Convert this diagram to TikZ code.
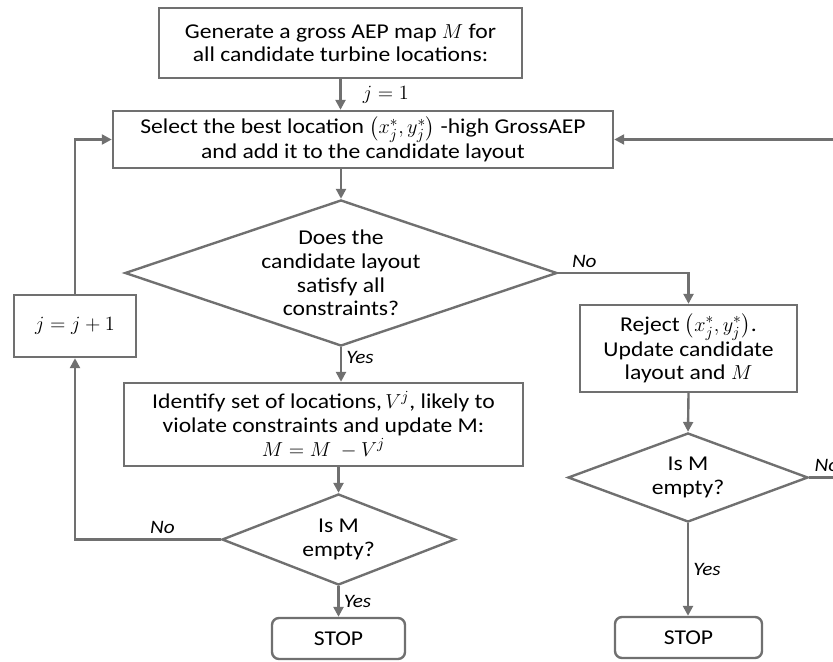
\documentclass[tikz,border=0pt]{standalone}
\usepackage{amsmath}
\usepackage{fontspec}
\setmainfont{Carlito}[FakeStretch=1.12]
\usetikzlibrary{shapes.geometric,arrows.meta}
\definecolor{linegray}{RGB}{112,112,112}

\begin{document}
\begin{tikzpicture}[x=0.025cm,y=-0.025cm,
    every node/.style={font=\fontsize{15}{16.8}\selectfont},
    box/.style={draw=linegray,line width=1.7pt,rectangle,align=center,inner sep=0},
    decision/.style={draw=linegray,line width=1.7pt,diamond,align=center,inner sep=0},
    stopbox/.style={draw=linegray,line width=1.7pt,rectangle,rounded corners=5pt,inner sep=0},
    arr/.style={draw=linegray,line width=1.7pt,-{Triangle[length=7pt,width=7pt]}},
    lbl/.style={font=\fontsize{13.5}{15}\selectfont\itshape,inner sep=3pt}]
        \useasboundingbox (0,0) rectangle (833,662);
        \clip (0,0) rectangle (833,662);
        \node[box,minimum width=9.075cm,minimum height=1.75cm] (gen) at (340.5,43) {Generate a gross AEP map $M$ for\\all candidate turbine locations:};
        \node[box,minimum width=12.5cm,minimum height=1.425cm] (sel) at (363,139.5) {Select the best location $\bigl(x_j^*,y_j^*\bigr)$ -high GrossAEP\\and add it to the candidate layout};
        \node[decision,shape aspect=2.9,minimum width=10.8cm,minimum height=3.65cm] (sat) at (341,273) {Does the\\candidate layout\\satisfy all\\constraints?};
        \node[box,minimum width=3.05cm,minimum height=1.55cm] (inc) at (75,326) {$j=j+1$};
        \node[box,minimum width=9.975cm,minimum height=2.075cm] (ident) at (323.5,424.5) {Identify set of locations,$\,V^j$, likely to\\violate constraints and update M:\\$M=M\ -V^j$};
        \node[decision,shape aspect=2.5,minimum width=5.825cm,minimum height=2.275cm] (emp1) at (338.5,539.5) {Is M\\empty?};
        \node[stopbox,minimum width=3.325cm,minimum height=1.025cm] (stop1) at (338.5,638.5) {STOP};
        \node[box,minimum width=5.425cm,minimum height=2.175cm] (rej) at (688.5,348.5) {Reject $\bigl(x_j^*,y_j^*\bigr)$.\\Update candidate\\layout and $M$};
        \node[decision,shape aspect=2.6,minimum width=6cm,minimum height=2.225cm] (emp2) at (688,477.5) {Is M\\empty?};
        \node[stopbox,minimum width=3.675cm,minimum height=1.025cm] (stop2) at (688.5,637.5) {STOP};

        \draw[arr] (gen.south) -- node[right,inner sep=1pt,xshift=14pt] {$j=1$} (gen.south |- sel.north);
        \draw[arr] (sel.south -| sat.north) -- (sat.north);
        \draw[arr] (sat.south) -- node[lbl,right,pos=0.3] {Yes} (sat.south |- ident.north);
        \draw[arr] (ident.south -| emp1.north) -- (emp1.north);
        \draw[arr] (emp1.south) -- node[lbl,right] {Yes} (stop1.north);
        \draw[arr] (emp1.west) -| node[lbl,above,pos=0.2] {No} (inc.south);
        \draw[arr] (inc.north) |- (sel.west);
        \draw[arr] (sat.east) -| node[lbl,above,pos=0.1] {No} (rej.north);
        \draw[arr] (rej.south) -- (emp2.north);
        \draw[arr] (emp2.south) -- node[lbl,right] {Yes} (emp2.south |- stop2.north);
        \draw[arr] (emp2.east) -- node[lbl,above right,pos=0] {No} ++(50,0) |- (sel.east);
\end{tikzpicture}
\end{document}
